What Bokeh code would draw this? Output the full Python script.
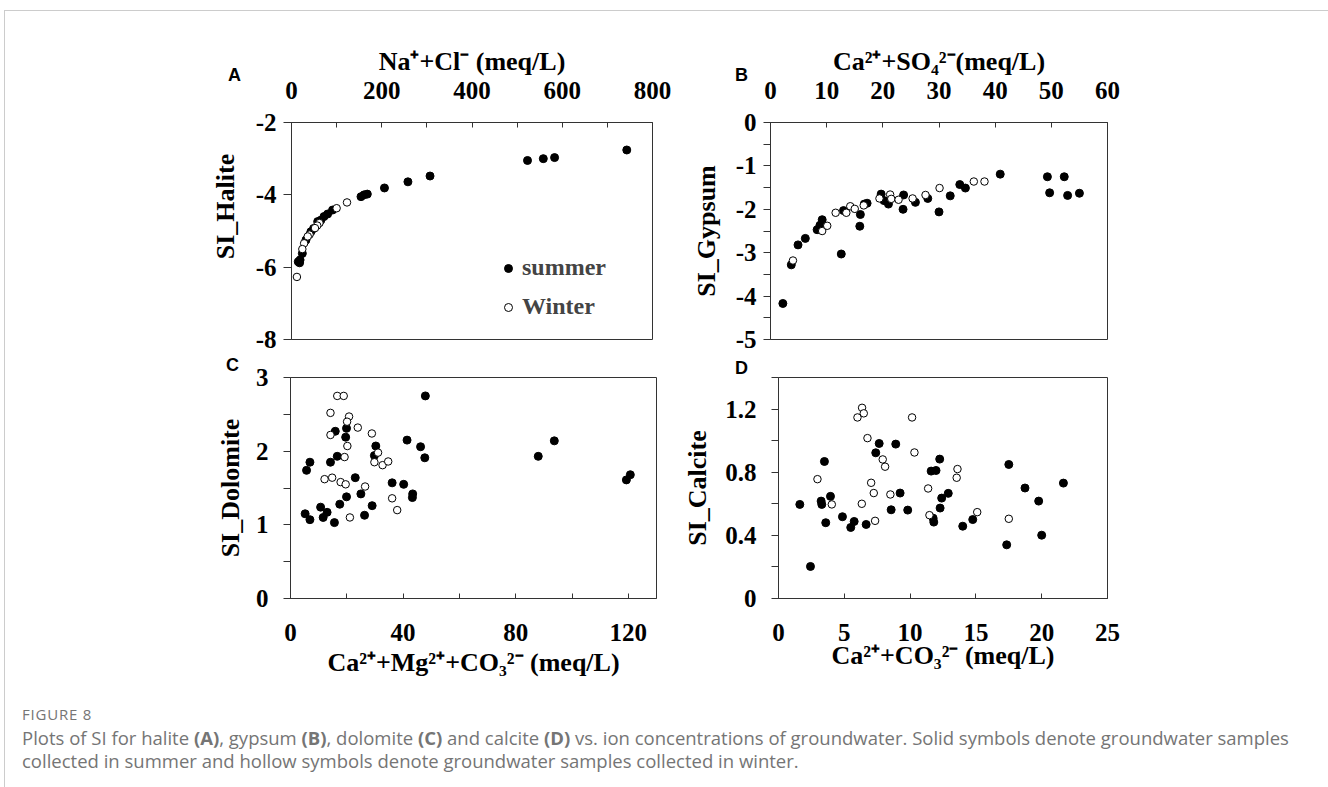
import math
from bokeh.plotting import figure
from bokeh.models import Range1d, FixedTicker, Label, Legend, LegendItem, Div
from bokeh.layouts import column, row
from bokeh.embed import file_html
from bokeh.resources import INLINE

# ---------------- data ----------------
# Panel A: SI halite vs Na+ + Cl- (meq/L)
a_summer_x = [743, 583, 558, 523, 307, 258, 206, 168, 161, 154, 91, 80, 72, 65, 58, 49, 43, 32, 24, 19, 18, 15]
a_summer_y = [-2.76, -2.97, -3.00, -3.05, -3.48, -3.64, -3.81, -3.98, -4.00, -4.05, -4.42, -4.53, -4.60,
              -4.70, -4.74, -4.93, -5.02, -5.25, -5.62, -5.80, -5.88, -5.85]
a_winter_x = [123, 100, 62, 57, 52, 40, 36, 28, 24, 12]
a_winter_y = [-4.21, -4.37, -4.78, -4.85, -4.92, -5.10, -5.15, -5.34, -5.50, -6.27]

# Panel B: SI gypsum vs Ca2+ + SO4 2- (meq/L)
b_summer_x = [2.2, 3.7, 4.9, 6.2, 8.3, 8.8, 9.2, 12.6, 13.0, 15.9, 16.0, 16.7, 17.2, 19.7, 20.2, 21.0,
              23.7, 23.6, 25.8, 28.0, 30.0, 32.0, 33.7, 34.7, 40.9, 49.3, 49.7, 52.3, 52.9, 55.0]
b_summer_y = [-4.17, -3.28, -2.82, -2.67, -2.47, -2.37, -2.24, -3.03, -2.03, -2.39, -2.12, -1.88, -1.86,
              -1.65, -1.80, -1.88, -1.67, -2.00, -1.84, -1.75, -2.06, -1.69, -1.43, -1.51, -1.19,
              -1.25, -1.62, -1.25, -1.68, -1.63]
b_winter_x = [4.0, 9.2, 10.1, 11.6, 13.5, 14.2, 15.0, 16.6, 19.4, 21.3, 21.5, 22.8, 25.3, 27.6, 30.1, 36.2, 38.1]
b_winter_y = [-3.18, -2.50, -2.38, -2.08, -2.08, -1.93, -1.99, -1.91, -1.75, -1.66, -1.76, -1.78, -1.75,
              -1.67, -1.51, -1.36, -1.36]

# Panel C: SI dolomite vs Ca2+ + Mg2+ + CO3 2- (meq/L)
c_summer_x = [47.9, 15.9, 19.9, 19.6, 30.3, 29.8, 41.4, 46.2, 47.7, 16.6, 14.2, 6.9, 5.7, 23.0, 36.1, 40.2,
              43.4, 43.3, 19.9, 25.0, 17.5, 29.0, 10.7, 13.0, 11.6, 5.2, 6.9, 15.6, 26.3, 88.0, 93.7, 119.3, 120.7]
c_summer_y = [2.75, 2.27, 2.31, 2.19, 2.07, 1.94, 2.15, 2.06, 1.91, 1.93, 1.85, 1.85, 1.74, 1.64, 1.57, 1.55,
              1.42, 1.37, 1.38, 1.42, 1.28, 1.26, 1.24, 1.17, 1.10, 1.15, 1.07, 1.03, 1.13, 1.93, 2.14, 1.61, 1.68]
c_winter_x = [16.6, 18.9, 14.2, 20.8, 20.1, 23.9, 14.2, 28.9, 20.2, 19.2, 31.1, 29.8, 32.7, 34.7, 12.1, 14.8,
              17.8, 19.6, 26.5, 36.1, 37.9, 21.1]
c_winter_y = [2.75, 2.75, 2.52, 2.47, 2.40, 2.32, 2.22, 2.24, 2.07, 1.92, 1.98, 1.85, 1.81, 1.86, 1.62, 1.64,
              1.58, 1.55, 1.52, 1.36, 1.20, 1.10]

# Panel D: SI calcite vs Ca2+ + CO3 2- (meq/L)
d_summer_x = [1.62, 2.43, 3.24, 3.29, 3.49, 3.59, 3.95, 4.86, 5.49, 5.75, 6.66, 7.39, 7.65, 8.91, 8.56, 9.24,
              9.82, 11.6, 11.97, 12.25, 12.4, 12.9, 12.28, 11.75, 11.8, 14.0, 14.76, 17.34, 17.5, 18.73,
              19.77, 20.0, 21.65]
d_summer_y = [0.596, 0.203, 0.617, 0.596, 0.868, 0.480, 0.647, 0.518, 0.450, 0.488, 0.469, 0.923, 0.982,
              0.978, 0.562, 0.668, 0.560, 0.807, 0.811, 0.883, 0.636, 0.666, 0.573, 0.509, 0.484, 0.458,
              0.500, 0.340, 0.849, 0.700, 0.617, 0.401, 0.731]
d_winter_x = [2.96, 4.05, 6.35, 6.48, 6.0, 6.76, 6.33, 7.04, 7.24, 7.34, 7.92, 8.1, 8.5, 10.15, 10.33, 11.37,
              11.47, 13.6, 13.54, 15.1, 17.5]
d_winter_y = [0.756, 0.596, 1.208, 1.173, 1.147, 1.016, 0.600, 0.733, 0.668, 0.492, 0.881, 0.835, 0.659,
              1.147, 0.925, 0.697, 0.528, 0.820, 0.765, 0.547, 0.505]

# tick definitions
a_x_ticks = [0, 200, 400, 600, 800]
a_x_labels = ["0", "200", "400", "600", "800"]
a_x_minor = [100, 300, 500, 700]
a_y_ticks = [-8, -6, -4, -2]
a_y_labels = ["-8", "-6", "-4", "-2"]

b_x_ticks = [0, 10, 20, 30, 40, 50, 60]
b_x_labels = ["0", "10", "20", "30", "40", "50", "60"]
b_y_ticks = [-5, -4, -3, -2, -1, 0]
b_y_labels = ["-5", "-4", "-3", "-2", "-1", "0"]
b_y_minor = [-4.5, -3.5, -2.5, -1.5, -0.5]

c_x_ticks = [0, 40, 80, 120]
c_x_labels = ["0", "40", "80", "120"]
c_x_minor = [20, 60, 100]
c_y_ticks = [0, 1, 2, 3]
c_y_labels = ["0", "1", "2", "3"]
c_y_minor = [0.5, 1.5, 2.5]

d_x_ticks = [0, 5, 10, 15, 20, 25]
d_x_labels = ["0", "5", "10", "15", "20", "25"]
d_y_ticks = [0, 0.4, 0.8, 1.2]
d_y_labels = ["0", "0.4", "0.8", "1.2"]
d_y_minor = [0.2, 0.6, 1.0, 1.4]

caption_title = "FIGURE 8"
caption_html = ("Plots of SI for halite <b>(A)</b>, gypsum <b>(B)</b>, dolomite <b>(C)</b> and calcite <b>(D)</b> "
                "vs. ion concentrations of groundwater. Solid symbols denote groundwater samples<br>"
                "collected in summer and hollow symbols denote groundwater samples collected in winter.")

# ---------------- styling helpers ----------------
SERIF = "Liberation Serif"
AX = "#333333"


def make_fig(width, height, left, right, top, bottom, xr, yr, x_loc):
    p = figure(width=width, height=height, x_range=Range1d(*xr), y_range=Range1d(*yr),
               x_axis_location=x_loc, toolbar_location=None, output_backend="svg",
               min_border_left=left, min_border_right=right, min_border_top=top, min_border_bottom=bottom)
    p.grid.visible = False
    p.outline_line_color = AX
    p.outline_line_width = 1
    p.background_fill_color = "white"
    p.border_fill_color = "white"
    for ax in p.axis:
        ax.axis_line_color = AX
        ax.major_tick_line_color = AX
        ax.minor_tick_line_color = AX
        ax.major_label_text_font = SERIF
        ax.major_label_text_font_style = "bold"
        ax.major_label_text_font_size = "25px"
        ax.major_label_text_color = "black"
        ax.axis_label_text_font = SERIF
        ax.axis_label_text_font_style = "bold"
        ax.axis_label_text_font_size = "26px"
        ax.axis_label_text_color = "black"
    return p


def set_axis(ax, ticks, labels, minor, tin, tout, standoff, label, label_standoff):
    ax.ticker = FixedTicker(ticks=ticks, minor_ticks=minor)
    ax.major_label_overrides = {t: l for t, l in zip(ticks, labels)}
    ax.major_tick_in = tin
    ax.major_tick_out = tout
    ax.minor_tick_in = tin
    ax.minor_tick_out = tout
    ax.major_label_standoff = standoff
    ax.axis_label = label
    ax.axis_label_standoff = label_standoff


def add_points(p, sx, sy, wx, wy):
    rs = p.scatter(sx, sy, size=8, marker="circle", fill_color="black", line_color="black", line_width=1)
    rw = p.scatter(wx, wy, size=7.5, marker="circle", fill_color="white", line_color="black", line_width=1)
    return rs, rw


def letter(p, txt, x, y):
    # panel letter, placed in canvas pixels inside the (empty) right side panel so it is not clipped
    p.add_layout(Label(x=x, y=y, x_units="canvas", y_units="canvas", text=txt,
                       text_font="Liberation Sans", text_font_style="bold", text_font_size="18px",
                       text_align="center", text_baseline="middle", text_color="black"), "right")


# ---------------- panel A ----------------
pA = make_fig(675, 344, 286, 28, 111, 16, (0, 800), (-8, -2), "above")
set_axis(pA.xaxis[0], a_x_ticks, a_x_labels, a_x_minor, 5, 0, 24, "Na\u207a+Cl\u207b (meq/L)", 3)
set_axis(pA.yaxis[0], a_y_ticks, a_y_labels, [], 0, 8, 7, None, 0)
rs, rw = add_points(pA, a_summer_x, a_summer_y, a_winter_x, a_winter_y)
legend = Legend(items=[LegendItem(label="summer", renderers=[rs]), LegendItem(label="Winter", renderers=[rw])],
                location=(207, 19), glyph_width=20, glyph_height=20, label_standoff=4, padding=0,
                spacing=12, margin=0, border_line_color=None, background_fill_alpha=0,
                label_text_font=SERIF, label_text_font_style="bold", label_text_font_size="24px")
pA.add_layout(legend, "center")
pA.add_layout(Label(x=220, y=195, x_units="canvas", y_units="canvas", text="SI_Halite", angle=math.pi / 2,
                    text_font=SERIF, text_font_style="bold", text_font_size="26px",
                    text_align="center", text_baseline="middle", text_color="black"), "left")
letter(pA, "A", 229, 63.5)

# ---------------- panel B ----------------
pB = make_fig(647, 344, 90, 220, 110, 15, (0, 60), (-5, 0), "above")
set_axis(pB.xaxis[0], b_x_ticks, b_x_labels, [], 5, 0, 24, "Ca\u00b2\u207a+SO\u2084\u00b2\u207b(meq/L)", 3)
set_axis(pB.yaxis[0], b_y_ticks, b_y_labels, b_y_minor, 0, 7, 7, "SI_Gypsum", 12)
add_points(pB, b_summer_x, b_summer_y, b_winter_x, b_winter_y)
letter(pB, "B", 61, 63.5)

# ---------------- panel C ----------------
pC = make_fig(675, 335, 285, 24, 17, 90, (0, 130), (0, 3), "below")
set_axis(pC.xaxis[0], c_x_ticks, c_x_labels, c_x_minor, 5, 0, 25,
         "Ca\u00b2\u207a+Mg\u00b2\u207a+CO\u2083\u00b2\u207b (meq/L)", 4)
set_axis(pC.yaxis[0], c_y_ticks, c_y_labels, c_y_minor, 0, 7, 15, "SI_Dolomite", 8)
add_points(pC, c_summer_x, c_summer_y, c_winter_x, c_winter_y)
letter(pC, "C", 227, 9)

# ---------------- panel D ----------------
pD = make_fig(647, 335, 97, 220, 22, 92, (0, 25), (0, 1.4), "below")
set_axis(pD.xaxis[0], d_x_ticks, d_x_labels, [], 5, 0, 25, "Ca\u00b2\u207a+CO\u2083\u00b2\u207b (meq/L)", -3)
set_axis(pD.yaxis[0], d_y_ticks, d_y_labels, d_y_minor, 0, 7, 15, "SI_Calcite", 10)
add_points(pD, d_summer_x, d_summer_y, d_winter_x, d_winter_y)
letter(pD, "D", 61, 12)

# ---------------- caption ----------------
cap = Div(width=1322, height=90, text=(
    "<div style=\"font-family:'Open Sans'; color:#757575; padding-left:12px; padding-top:10px; white-space:nowrap;\">"
    "<div style=\"font-size:15px; line-height:18px; margin-bottom:3px; letter-spacing:0.8px;\">"
    + caption_title + "</div>"
    "<div style=\"font-size:18.5px; line-height:23px;\">" + caption_html + "</div></div>"))

layout = column(row(pA, pB), row(pC, pD), cap,
                styles={"outline": "1.5px solid #cccccc", "margin-left": "5px", "margin-top": "11px"})

open("out.html", "w").write(file_html(layout, INLINE))
